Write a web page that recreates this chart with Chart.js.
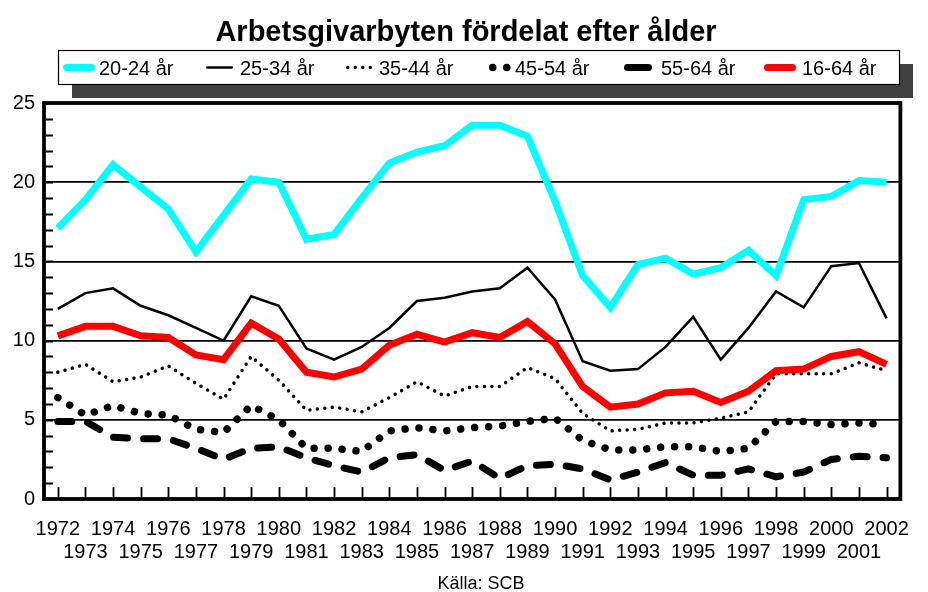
<!DOCTYPE html>
<html><head><meta charset="utf-8">
<script src="https://cdn.jsdelivr.net/npm/chart.js@4/dist/chart.umd.min.js"></script>
<style>html,body{margin:0;padding:0;background:#fff}</style>
</head><body>
<canvas id="c" width="928" height="592"></canvas>
<script>
const titleText = "Arbetsgivarbyten fördelat efter ålder";
const sourceText = "Källa: SCB";
const years = ["1972","1973","1974","1975","1976","1977","1978","1979","1980","1981","1982","1983","1984","1985","1986","1987","1988","1989","1990","1991","1992","1993","1994","1995","1996","1997","1998","1999","2000","2001","2002"];
const seriesNames = ["20-24 år","25-34 år","35-44 år","45-54 år","55-64 år","16-64 år"];
const age20_24 = [17.1,18.9,21.1,19.7,18.3,15.6,17.9,20.2,20.0,16.4,16.7,19.0,21.2,21.9,22.3,23.6,23.6,22.9,18.8,14.1,12.1,14.8,15.2,14.2,14.6,15.7,14.1,18.9,19.1,20.1,20.0];
const age25_34 = [12.0,13.0,13.3,12.2,11.6,10.8,10.0,12.8,12.2,9.5,8.8,9.6,10.8,12.5,12.7,13.1,13.3,14.6,12.6,8.7,8.1,8.2,9.6,11.5,8.8,10.8,13.1,12.1,14.7,14.9,11.4];
const age35_44 = [8.0,8.5,7.4,7.7,8.4,7.3,6.3,9.0,7.5,5.6,5.8,5.5,6.4,7.4,6.5,7.1,7.1,8.3,7.6,5.4,4.3,4.4,4.8,4.8,5.1,5.5,7.9,7.9,7.9,8.6,8.1];
const age45_54 = [6.4,5.3,5.9,5.4,5.3,4.4,4.2,5.9,5.0,3.2,3.2,3.0,4.3,4.5,4.3,4.5,4.6,4.9,5.1,3.7,3.1,3.1,3.3,3.3,3.0,3.2,4.9,4.9,4.7,4.8,4.7];
const age55_64 = [4.9,4.9,3.9,3.8,3.8,3.2,2.5,3.2,3.3,2.6,2.1,1.7,2.6,2.8,1.8,2.4,1.3,2.1,2.2,1.9,1.2,1.7,2.3,1.5,1.5,1.9,1.4,1.7,2.5,2.7,2.6];
const age16_64 = [10.3,10.9,10.9,10.3,10.2,9.1,8.8,11.1,10.1,8.0,7.7,8.2,9.7,10.4,9.9,10.5,10.2,11.2,9.8,7.1,5.8,6.0,6.7,6.8,6.1,6.8,8.1,8.2,9.0,9.3,8.5];
const yMin = 0, yMax = 25, yStep = 5;

const FONT = "'Liberation Sans', Arial, Helvetica, sans-serif";

const datasets = [
  {label: seriesNames[0], data: age20_24, borderColor: '#00FFFF', borderWidth: 7, borderDash: [], borderCapStyle: 'butt', order: 6},
  {label: seriesNames[1], data: age25_34, borderColor: '#000000', borderWidth: 2.5, borderDash: [], borderCapStyle: 'butt', order: 5},
  {label: seriesNames[2], data: age35_44, borderColor: '#000000', borderWidth: 3.5, borderDash: [0.01, 7.5], borderCapStyle: 'round', order: 4},
  {label: seriesNames[3], data: age45_54, borderColor: '#000000', borderWidth: 7.5, borderDash: [0.01, 14], borderCapStyle: 'round', order: 3},
  {label: seriesNames[4], data: age55_64, borderColor: '#000000', borderWidth: 7, borderDash: [14, 16], borderCapStyle: 'round', order: 2},
  {label: seriesNames[5], data: age16_64, borderColor: '#FF0000', borderWidth: 7, borderDash: [], borderCapStyle: 'butt', order: 1}
].map(d => Object.assign({pointRadius: 0, pointHoverRadius: 0, tension: 0, fill: false, borderJoinStyle: 'miter'}, d));

const decor = {
  id: 'decor',
  afterDraw(chart) {
    const ctx = chart.ctx;
    const a = chart.chartArea;
    const ys = chart.scales.y, xs = chart.scales.x;
    ctx.save();
    ctx.strokeStyle = '#000';
    ctx.lineWidth = 1.8;
    ctx.beginPath();
    for (let v = yMin + 1; v < yMax; v++) {
      const py = Math.round(ys.getPixelForValue(v)) + 0.5;
      ctx.moveTo(a.left, py); ctx.lineTo(a.left + 9, py);
    }
    for (let i = 0; i < years.length; i++) {
      const px = Math.round(xs.getPixelForValue(i)) + 0.5;
      ctx.moveTo(px, a.bottom); ctx.lineTo(px, a.bottom - 12);
    }
    ctx.stroke();
    ctx.lineWidth = 3.8;
    ctx.strokeRect(a.left, a.top, a.right - a.left, a.bottom - a.top);
    ctx.fillStyle = '#000';
    ctx.font = 'bold 29px ' + FONT;
    ctx.textAlign = 'center';
    ctx.textBaseline = 'alphabetic';
    ctx.fillText(titleText, 466, 41);
    ctx.font = '18px ' + FONT;
    ctx.fillText(sourceText, 481, 589);
    const lx = 58, ly = 50, lw = 841, lh = 34, sh = 14;
    ctx.fillStyle = '#404040';
    ctx.fillRect(lx + sh, ly + sh, lw, lh);
    ctx.fillStyle = '#fff';
    ctx.fillRect(lx, ly, lw, lh);
    ctx.lineWidth = 1.2;
    ctx.strokeStyle = '#000';
    ctx.strokeRect(lx + 0.5, ly + 0.5, lw, lh);
    const symX0 = [63, 206, 346, 489, 624, 764];
    const symX1 = [95, 233, 374, 512, 652, 796];
    const textX = [99, 240, 379, 515, 661, 802];
    const cy = 67.5;
    chart.data.datasets.forEach((d, i) => {
      ctx.save();
      ctx.strokeStyle = d.borderColor;
      ctx.lineWidth = d.borderWidth;
      ctx.lineCap = 'round';
      const dash = d.borderDash || [];
      ctx.setLineDash(dash.length && dash[0] > 1 ? [] : dash);
      const w = d.borderWidth / 2;
      ctx.beginPath();
      ctx.moveTo(symX0[i] + w, cy);
      ctx.lineTo(symX1[i] - w, cy);
      ctx.stroke();
      ctx.restore();
      ctx.fillStyle = '#000';
      ctx.font = '20px ' + FONT;
      ctx.textAlign = 'left';
      ctx.fillText(d.label, textX[i], 75);
    });
    ctx.restore();
  }
};

new Chart(document.getElementById('c'), {
  type: 'line',
  data: {labels: years, datasets: datasets},
  options: {
    responsive: false,
    animation: false,
    devicePixelRatio: 1,
    layout: {padding: {top: 103, right: 12, bottom: 29, left: 0}},
    plugins: {legend: {display: false}, title: {display: false}, tooltip: {enabled: false}},
    scales: {
      x: {
        type: 'category',
        offset: true,
        grid: {display: false, drawTicks: false},
        border: {display: false},
        afterFit(s) { s.height = 64; },
        ticks: {
          autoSkip: false, maxRotation: 0, minRotation: 0, padding: 19,
          color: '#000',
          font: {family: FONT, size: 20, lineHeight: 1.165},
          callback(v, idx) { return idx % 2 === 0 ? years[idx] : ['', years[idx]]; }
        }
      },
      y: {
        min: yMin, max: yMax,
        afterFit(s) { s.width = 44; },
        grid: {
          drawTicks: false,
          lineWidth: 1.8,
          color: (c) => (c.tick && c.tick.value > yMin && c.tick.value < yMax) ? '#000' : 'rgba(0,0,0,0)'
        },
        border: {display: false},
        ticks: {stepSize: yStep, padding: 9, color: '#000', font: {family: FONT, size: 20}}
      }
    }
  },
  plugins: [decor]
});
</script>
</body></html>
